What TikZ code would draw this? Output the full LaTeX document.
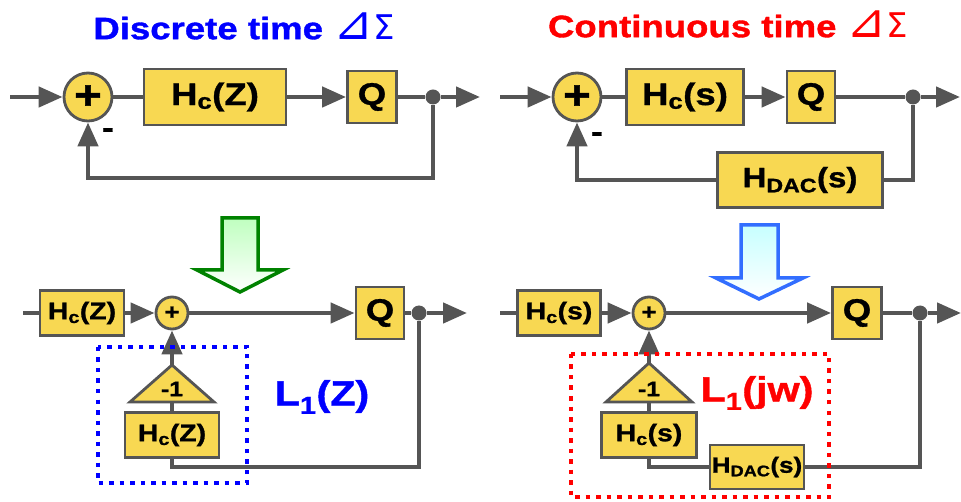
\documentclass[tikz,border=0pt]{standalone}
\usepackage{fontspec}
\setmainfont{Liberation Sans}[FakeStretch=1.18,BoldFeatures={FakeBold=1.2}]
\newfontfamily\symfont{DejaVu Sans}
\usetikzlibrary{arrows.meta}
\definecolor{boxyellow}{RGB}{248,216,82}
\definecolor{wiregray}{RGB}{85,85,85}
\definecolor{arrowgreen}{RGB}{0,130,0}
\definecolor{arrowblue}{RGB}{50,110,255}
\newcommand{\dsig}{{\mdseries\symfont\fontsize{34}{34}\selectfont\scalebox{1.4}{⊿}Σ}}

\begin{document}
\begin{tikzpicture}[x=1pt,y=-1pt,
		wire/.style={draw=wiregray,line width=4.5pt},
		arr/.style={wire,-{Triangle[length=24pt,width=20pt]}},
		blk/.style={draw=wiregray,fill=boxyellow,line width=2.8pt,inner sep=0pt,font=\fontsize{31}{33}\selectfont\bfseries},
		smallblk/.style={blk,font=\fontsize{24}{26}\selectfont\bfseries},
		sumbig/.style={circle,draw=wiregray,fill=boxyellow,line width=2.8pt,inner sep=0pt,minimum size=48pt,font=\fontsize{40}{40}\selectfont\bfseries},
		sumsmall/.style={sumbig,minimum size=32pt,font=\fontsize{22}{22}\selectfont\bfseries},
		dot/.style={circle,fill=wiregray,inner sep=0pt,minimum size=15pt},
		gain/.style={draw=wiregray,fill=boxyellow,line width=2.8pt,line join=miter},
		gaintxt/.style={inner sep=0pt,font=\fontsize{21}{22}\selectfont\bfseries},
		minus/.style={inner sep=0pt,font=\fontsize{30}{30}\selectfont\bfseries},
		title/.style={inner sep=0pt,font=\fontsize{31}{33}\selectfont\bfseries},
		loopname/.style={inner sep=0pt,font=\fontsize{35}{37}\selectfont\bfseries},
		dotbox/.style={line width=4.5pt,dash pattern=on 4.5pt off 6pt}]
	\useasboundingbox (0,0) rectangle (961,502);
	% discrete time loop
	\node[title,text=blue] (ttl1) at (244,26) {Discrete time \dsig};
	\coordinate (in1) at (10,97);
	\node[sumbig] (sum1) at (88,97) {+};
	\node[blk,minimum width=142pt,minimum height=56pt] (hc1) at (215,97) {H\textsubscript{c}(Z)};
	\node[blk,minimum width=49pt,minimum height=52pt] (q1) at (372,97) {Q};
	\node[dot] (j1) at (433,97) {};
	\coordinate (out1) at (480,97);
	\coordinate (fb1) at (433,178);
	\node[minus] (neg1) at (108,133) {-};
	\draw[arr] (in1) -- (sum1);
	\draw[wire] (sum1) -- (hc1);
	\draw[arr] (hc1) -- (q1);
	\draw[wire] (q1) -- (j1);
	\draw[arr] (j1) -- (out1);
	\draw[arr] (j1) -- (fb1) -| (sum1);
	% continuous time loop
	\node[title,text=red] (ttl2) at (728,24) {Continuous time \dsig};
	\coordinate (in2) at (500,97);
	\node[sumbig] (sum2) at (577,97) {+};
	\node[blk,minimum width=117pt,minimum height=56pt] (hc2) at (685,97) {H\textsubscript{c}(s)};
	\node[blk,minimum width=48pt,minimum height=52pt] (q2) at (811,97) {Q};
	\node[dot] (j2) at (913,97) {};
	\coordinate (out2) at (960,97);
	\node[blk,minimum width=165pt,minimum height=55pt,font=\fontsize{28}{30}\selectfont\bfseries] (dac1) at (800,180) {H\textsubscript{DAC}(s)};
	\node[minus] (neg2) at (597,137) {-};
	\draw[arr] (in2) -- (sum2);
	\draw[wire] (sum2) -- (hc2);
	\draw[arr] (hc2) -- (q2);
	\draw[wire] (q2) -- (j2);
	\draw[arr] (j2) -- (out2);
	\draw[wire] (j2) |- (dac1);
	\draw[arr] (dac1) -| (sum2);
	% big arrows
	\shade[top color=green!25,bottom color=white,draw=arrowgreen,line width=3.5pt,line join=miter]
		(222,218) -- (258,218) -- (258,270) -- (283,270) -- (240,292) -- (197,270) -- (222,270) -- cycle;
	\shade[top color=cyan!22,bottom color=white,draw=arrowblue,line width=3.5pt,line join=miter]
		(741,225) -- (778,225) -- (778,278) -- (803,278) -- (759,299) -- (716,278) -- (741,278) -- cycle;
	% discrete time, split loop
	\coordinate (in3) at (23,313);
	\node[smallblk,minimum width=84pt,minimum height=45pt] (hc3) at (82,313) {H\textsubscript{c}(Z)};
	\node[sumsmall] (sum3) at (172,313) {+};
	\node[blk,minimum width=48pt,minimum height=52pt] (q3) at (380,313) {Q};
	\node[dot] (j3) at (419,313) {};
	\coordinate (out3) at (467,313);
	\coordinate (fb3) at (419,467);
	\node[smallblk,minimum width=94pt,minimum height=45pt] (hc4) at (172,435) {H\textsubscript{c}(Z)};
	\coordinate (tri1top) at (172,365);
	\coordinate (tri1bot) at (172,402);
	\draw[gain] (130,402) -- (tri1top) -- (214,402) -- cycle;
	\node[gaintxt] (g1) at (172,389) {-1};
	\draw[wire] (in3) -- (hc3);
	\draw[arr] (hc3) -- (sum3);
	\draw[arr] (sum3) -- (q3);
	\draw[wire] (q3) -- (j3);
	\draw[arr] (j3) -- (out3);
	\draw[wire] (j3) -- (fb3) -| (hc4);
	\draw[wire] (hc4) -- (tri1bot);
	\draw[arr] (tri1top) -- (sum3);
	\draw[dotbox,blue] (98,347) rectangle (247,483);
	\node[loopname,text=blue] (l1) at (322,397) {L\textsubscript{1}(Z)};
	% continuous time, split loop
	\coordinate (in4) at (500,313);
	\node[smallblk,minimum width=83pt,minimum height=45pt] (hc5) at (559,313) {H\textsubscript{c}(s)};
	\node[sumsmall] (sum4) at (649,313) {+};
	\node[blk,minimum width=49pt,minimum height=52pt] (q4) at (857,313) {Q};
	\node[dot] (j4) at (920,313) {};
	\coordinate (out4) at (961,313);
	\node[smallblk,minimum width=95pt,minimum height=45pt] (hc6) at (649,435) {H\textsubscript{c}(s)};
	\node[smallblk,minimum width=94pt,minimum height=44pt,font=\fontsize{22}{24}\selectfont\bfseries] (dac2) at (757,467) {H\textsubscript{DAC}(s)};
	\coordinate (tri2top) at (649,363);
	\coordinate (tri2bot) at (649,402);
	\draw[gain] (606,402) -- (tri2top) -- (692,402) -- cycle;
	\node[gaintxt] (g2) at (649,389) {-1};
	\draw[wire] (in4) -- (hc5);
	\draw[arr] (hc5) -- (sum4);
	\draw[arr] (sum4) -- (q4);
	\draw[wire] (q4) -- (j4);
	\draw[arr] (j4) -- (out4);
	\draw[wire] (j4) |- (dac2);
	\draw[wire] (dac2) -| (hc6);
	\draw[wire] (hc6) -- (tri2bot);
	\draw[arr] (tri2top) -- (sum4);
	\draw[dotbox,red] (571,354) rectangle (829,497);
	\node[loopname,text=red] (l2) at (757,393) {L\textsubscript{1}(jw)};
\end{tikzpicture}
\end{document}
